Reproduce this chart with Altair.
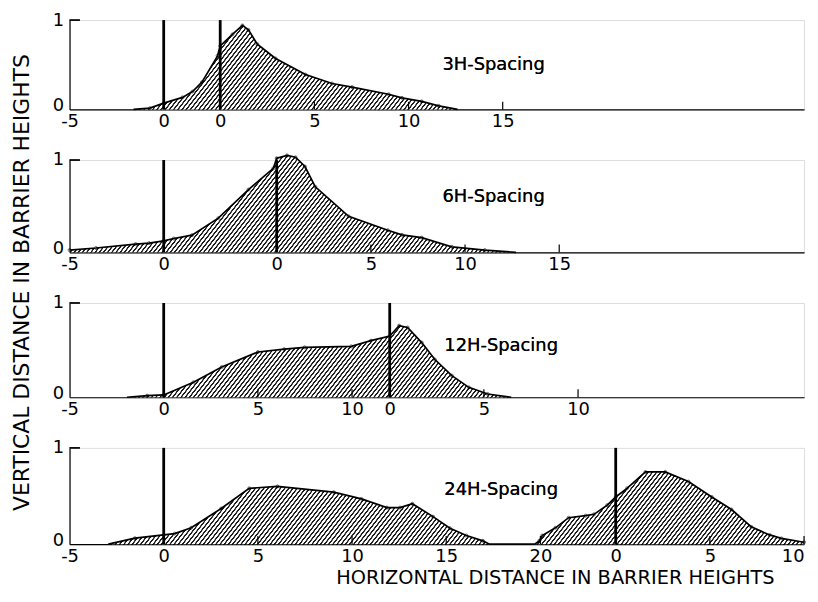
import math
import altair as alt
import pandas as pd

# ---------------- data ----------------
spacing_labels = ["3H-Spacing", "6H-Spacing", "12H-Spacing", "24H-Spacing"]
barrier_positions = [[0, 3], [0, 6], [0, 12], [0, 24]]

x_3h = [-1.6, -0.74, 0, 1.0, 1.53, 2.03, 2.86, 3.0, 3.65, 4.18, 4.5, 4.97, 5.94,
        7.53, 8.94, 10.0, 11.94, 12.65, 13.7, 14.6, 15.6]
h_3h = [0, 0.014, 0.07, 0.135, 0.2, 0.305, 0.6, 0.71, 0.84, 0.94, 0.89, 0.73, 0.57,
        0.39, 0.29, 0.25, 0.17, 0.13, 0.09, 0.04, 0]

x_6h = [-5, -3.6, -1.49, -0.78, 0, 0.53, 1.5, 2.9, 4.5, 5.82, 6.0, 6.55, 7.0, 7.5,
        8.05, 9.82, 11.9, 12.65, 13.7, 15.3, 17.05, 18.7]
h_6h = [0.025, 0.047, 0.09, 0.10, 0.125, 0.15, 0.186, 0.37, 0.68, 0.91, 1.02, 1.05,
        1.03, 0.93, 0.71, 0.39, 0.24, 0.19, 0.16, 0.06, 0.025, 0]

x_12h = [-1.95, -0.88, 0, 1.58, 3.08, 5.0, 6.4, 7.48, 9.96, 11.0, 12.0, 12.5, 12.95,
         13.7, 14.4, 15.3, 16.2, 17.2, 18.45]
h_12h = [0, 0.017, 0.025, 0.16, 0.32, 0.48, 0.51, 0.53, 0.54, 0.6, 0.65, 0.76, 0.74,
         0.58, 0.40, 0.23, 0.105, 0.035, 0]

x_24h = [-2.94, -1.53, 0, 0.58, 1.46, 3.05, 4.54, 6.04, 9.03, 10.5, 11.85, 12.55,
         13.2, 14.3, 15.2, 16.07, 16.95, 17.3, 19.7, 19.94, 20.1, 20.8, 21.5, 22.4,
         22.85, 23.55, 24.0, 24.6, 25.58, 26.63, 27.86, 29.1, 30.15, 31.2, 32.17,
         32.8, 34]
h_24h = [0, 0.062, 0.096, 0.11, 0.17, 0.37, 0.58, 0.60, 0.54, 0.47, 0.38, 0.38,
         0.42, 0.286, 0.165, 0.09, 0.034, 0, 0, 0.034, 0.09, 0.17, 0.275, 0.296,
         0.31, 0.405, 0.49, 0.58, 0.75, 0.75, 0.65, 0.49, 0.36, 0.18, 0.096,
         0.06, 0.02]

tick_values = [
    [-5, 0, 3, 8, 13, 18],
    [-5, 0, 6, 11, 16, 21],
    [-5, 0, 5, 10, 12, 17, 22],
    [-5, 0, 5, 10, 15, 20, 24, 29, 34],
]
tick_labels = [
    ["-5", "0", "0", "5", "10", "15"],
    ["-5", "0", "0", "5", "10", "15"],
    ["-5", "0", "5", "10", "0", "5", "10"],
    ["-5", "0", "5", "10", "15", "20", "0", "5", "10"],
]

profiles_x = [x_3h, x_6h, x_12h, x_24h]
profiles_h = [h_3h, h_6h, h_12h, h_24h]

x_title = "HORIZONTAL DISTANCE IN BARRIER HEIGHTS"
y_title = "VERTICAL DISTANCE IN BARRIER HEIGHTS"

# ---------------- styling ----------------
FONT = "DejaVu Sans"
WIDTH = 740
X_DOMAIN = [-5, 34]
HEIGHTS = [90, 93, 95, 97]
LABEL_POS = [(14.8, 0.5), (14.8, 0.6), (14.9, 0.54), (14.9, 0.56)]
PX_PER_UNIT = WIDTH / (X_DOMAIN[1] - X_DOMAIN[0])


def hatch(W, H, angle=52, period=3.3, dark=0.42):
    """Diagonal hatching as a striped linear gradient (bbox units)."""
    s, c = math.sin(math.radians(angle)), math.cos(math.radians(angle))
    D = W * s + H * c
    den = s * s * W * W + c * c * H * H
    a = s * W * D / den
    b = c * H * D / den
    n = max(1, int(D / period))
    stops = []
    for i in range(n):
        stops += [
            {"offset": round(i / n, 6), "color": "#ffffff"},
            {"offset": round((i + 0.1) / n, 6), "color": "#1e1e1e"},
            {"offset": round((i + dark) / n, 6), "color": "#1e1e1e"},
            {"offset": round((i + dark + 0.1) / n, 6), "color": "#ffffff"},
        ]
    return {"gradient": "linear", "x1": 0, "y1": 0, "x2": a, "y2": b, "stops": stops}


def label_expr(vals, labs):
    expr = "''"
    for v, l in reversed(list(zip(vals, labs))):
        expr = f"datum.value == {v} ? '{l}' : ({expr})"
    return expr


def panel(i):
    xs, hs = profiles_x[i], profiles_h[i]
    height = HEIGHTS[i]
    df = pd.DataFrame({"x": xs, "h": hs})

    W = (max(xs) - min(xs)) * PX_PER_UNIT
    H = max(hs) * height
    fill = hatch(W, H)

    xscale = alt.Scale(domain=X_DOMAIN, nice=False, zero=False)
    yscale = alt.Scale(domain=[0, 1], nice=False, zero=False)

    xaxis_kw = dict(
        values=tick_values[i],
        labelExpr=label_expr(tick_values[i], tick_labels[i]),
        ticks=False, grid=False, domain=True,
        domainColor="black", domainWidth=1.2,
        labelFont=FONT, labelFontSize=18, labelColor="black",
        labelPadding=3, labelOverlap=False, labelFlush=False,
        labelAlign={"condition": {"test": "datum.value >= 34", "value": "right"},
                    "value": "center"},
        title=None,
    )
    if i == 3:
        xaxis_kw.update(title=x_title, titleFont=FONT, titleFontSize=19.5,
                        titleFontWeight="normal", titleColor="black",
                        titlePadding=4, titleX=489, titleAlign="center")
    xaxis = alt.Axis(**xaxis_kw)

    yaxis_kw = dict(
        values=[0, 1], format="d", ticks=False, grid=False, domain=True,
        domainColor="black", domainWidth=1.2,
        labelFont=FONT, labelFontSize=18, labelColor="black", labelPadding=6,
        labelOffset={"condition": {"test": "datum.value == 0", "value": -4},
                     "value": 0},
        title=None,
    )
    if i == 1:
        yaxis_kw.update(title=y_title, titleFont=FONT, titleFontSize=22,
                        titleFontWeight="normal", titleColor="black",
                        titleAngle=270, titleAlign="center", titleBaseline="bottom",
                        titleX=-36, titleY=123)
    yaxis = alt.Axis(**yaxis_kw)

    X = alt.X("x:Q", scale=xscale, axis=xaxis)
    Y = alt.Y("h:Q", scale=yscale, axis=yaxis)

    base = alt.Chart(df)
    area = base.mark_area(fill=fill, opacity=1, strokeWidth=0).encode(x=X, y=Y)
    line = base.mark_line(color="black", strokeWidth=1.7).encode(x=X, y=Y)
    pts = base.transform_filter("datum.h > 0").mark_point(
        shape="circle", size=9, filled=False, color="black", strokeWidth=0.8
    ).encode(x=X, y=Y)

    bar_df = pd.DataFrame({"x": barrier_positions[i]})
    bars = alt.Chart(bar_df).mark_rule(color="black", strokeWidth=2.8).encode(
        x=X,
        y=alt.YDatum(0, scale=yscale, axis=yaxis, type="quantitative"),
        y2=alt.Y2Datum(1),
    )

    tick_df = pd.DataFrame({"x": tick_values[i][1:]})
    ticks = alt.Chart(tick_df).mark_rule(color="black", strokeWidth=1.2).encode(
        x=X,
        y=alt.YDatum(0, scale=yscale, axis=yaxis, type="quantitative"),
        y2=alt.Y2Datum(0.085),
    )

    ytick = alt.Chart(bar_df).mark_rule(color="black", strokeWidth=1.3).encode(
        x=alt.XDatum(-5, scale=xscale, axis=xaxis, type="quantitative"),
        x2=alt.X2Datum(-4.45),
        y=alt.YDatum(1, scale=yscale, axis=yaxis, type="quantitative"),
    )

    lx, ly = LABEL_POS[i]
    text = alt.Chart(bar_df).mark_text(
        align="left", baseline="middle", font=FONT, fontSize=18, color="black"
    ).encode(
        x=alt.XDatum(lx, scale=xscale, axis=xaxis, type="quantitative"),
        y=alt.YDatum(ly, scale=yscale, axis=yaxis, type="quantitative"),
        text=alt.value(spacing_labels[i]),
    )

    return alt.layer(area, line, pts, bars, ticks, ytick, text).properties(
        width=WIDTH, height=height
    )


chart = alt.vconcat(*[panel(i) for i in range(4)], spacing=51, bounds="flush").properties(
    padding={"left": 2, "top": 0, "right": 2, "bottom": 0}
).configure_view(stroke=None).configure(background="white")

chart.save("out.html", embed_options={"renderer": "svg", "actions": False})
